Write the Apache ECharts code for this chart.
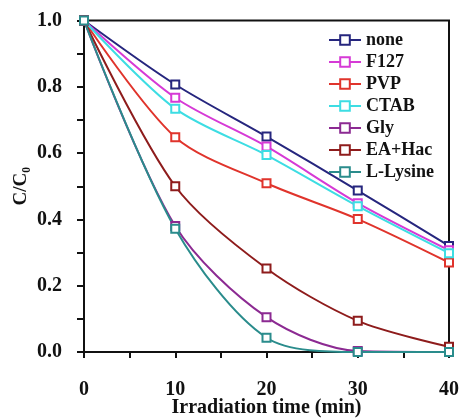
<!DOCTYPE html>
<html>
<head>
<meta charset="utf-8">
<script src="https://cdn.jsdelivr.net/npm/echarts@6/dist/echarts.min.js"></script>
<style>html,body{margin:0;padding:0;background:#fff;}#c{width:459px;height:418px;}</style>
</head>
<body>
<div id="c"></div>
<script>
var times = [0, 10, 20, 30, 40];
var seriesNames = ['none', 'F127', 'PVP', 'CTAB', 'Gly', 'EA+Hac', 'L-Lysine'];
var none = [1.0, 0.807, 0.65, 0.487, 0.32];
var f127 = [1.0, 0.767, 0.62, 0.449, 0.307];
var pvp = [1.0, 0.648, 0.509, 0.401, 0.27];
var ctab = [1.0, 0.734, 0.594, 0.44, 0.298];
var gly = [1.0, 0.38, 0.105, 0.003, 0.0];
var eaHac = [1.0, 0.50, 0.252, 0.094, 0.016];
var lLysine = [1.0, 0.372, 0.043, 0.0, 0.0];
var xTickLabels = ['0', '10', '20', '30', '40'];
var yTickLabels = ['0.0', '0.2', '0.4', '0.6', '0.8', '1.0'];

var values = [none, f127, pvp, ctab, gly, eaHac, lLysine];
var colors = ['#26267e', '#d63ad6', '#e0342c', '#3ddde3', '#8c2a92', '#8e1c1c', '#2a8c8c'];
var serif = '"Liberation Serif", "DejaVu Serif", serif';

var series = seriesNames.map(function (n, i) {
  return {
    name: n,
    type: 'line',
    smooth: 0.3,
    symbol: 'emptyRect',
    symbolSize: 8,
    showAllSymbol: true,
    clip: true,
    color: colors[i],
    lineStyle: { width: 2, color: colors[i] },
    itemStyle: { color: colors[i], borderWidth: 1.5 },
    data: times.map(function (t, k) { return [t, values[i][k]]; })
  };
});

var chart = echarts.init(document.getElementById('c'), null, { renderer: 'canvas' });
chart.setOption({
  animation: false,
  backgroundColor: '#fff',
  grid: { left: 84, right: 10, top: 20.5, bottom: 66, outerBoundsMode: 'none', containLabel: false, show: true, borderColor: '#111', borderWidth: 2, backgroundColor: 'transparent' },
  legend: {
    orient: 'vertical',
    left: 328,
    top: 31,
    padding: 0,
    itemWidth: 32,
    itemHeight: 12,
    itemGap: 4,
    textStyle: { fontFamily: serif, fontWeight: 'bold', fontSize: 18, color: '#111', lineHeight: 17 },
    data: seriesNames
  },
  xAxis: {
    type: 'value',
    min: 0, max: 40, interval: 5,
    name: 'Irradiation time (min)',
    nameLocation: 'middle',
    nameGap: 46,
    nameMoveOverlap: false,
    nameTextStyle: { fontFamily: serif, fontWeight: 'bold', fontSize: 20, color: '#111' },
    axisLine: { lineStyle: { color: '#111', width: 2 } },
    axisTick: { show: true, inside: false, length: 6, lineStyle: { color: '#111', width: 2 } },
    splitLine: { show: false },
    axisLabel: {
      margin: 28,
      fontFamily: serif, fontWeight: 'bold', fontSize: 20, color: '#111',
      formatter: function (v) { var i = xTickLabels.indexOf(String(v)); return i >= 0 ? xTickLabels[i] : ''; }
    }
  },
  yAxis: {
    type: 'value',
    min: 0, max: 1.0, interval: 0.1,
    name: 'C/C\u2080',
    nameLocation: 'middle',
    nameGap: 53,
    nameMoveOverlap: false,
    nameRotate: 90,
    nameTextStyle: { fontFamily: serif, fontWeight: 'bold', fontSize: 19, color: '#111' },
    axisLine: { show: true, lineStyle: { color: '#111', width: 2 } },
    axisTick: { show: true, inside: false, length: 7, lineStyle: { color: '#111', width: 2 } },
    splitLine: { show: false },
    axisLabel: {
      margin: 22,
      fontFamily: serif, fontWeight: 'bold', fontSize: 20, color: '#111',
      formatter: function (v) { var s = v.toFixed(1); return yTickLabels.indexOf(s) >= 0 ? s : ''; }
    }
  },
  series: series
});
</script>
</body>
</html>
